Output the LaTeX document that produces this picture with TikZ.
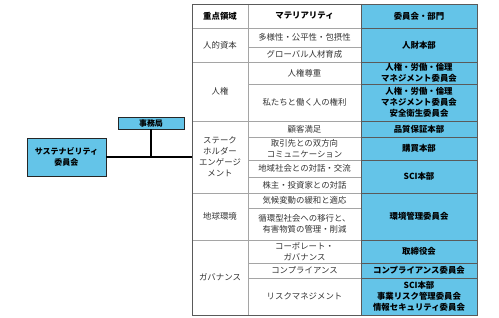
\documentclass[tikz,border=0pt]{standalone}
\usepackage{fontspec}
\setmainfont{Noto Sans CJK JP}
\usepackage{xcolor}
\usepackage{tikz}
\usetikzlibrary{calc}

\definecolor{matblue}{RGB}{100,196,232}
\definecolor{gridgray}{RGB}{165,165,165}
\definecolor{edgegray}{RGB}{90,90,90}

\begin{document}
\begin{tikzpicture}[x=1pt,y=-1pt,
  txt/.style={font=\fontsize{8.4}{11}\selectfont,align=center,text=black!80,inner sep=0pt},
  head/.style={txt,font=\fontsize{8.4}{11}\selectfont\bfseries,text=black},
  bluetxt/.style={txt,font=\fontsize{8.4}{11}\selectfont\bfseries,text=black},
  box/.style={draw=black!85,fill=matblue,line width=0.9pt,
    font=\fontsize{8}{11}\selectfont\bfseries,align=center,inner sep=0pt},
  link/.style={line width=1.1pt}]
  % Table of focus areas, materiality and responsible bodies.

  \useasboundingbox (0,0) rectangle (499,318);

  \fill[matblue] (361,4) rectangle (477,315);

  % white part: group lines and item lines
  \foreach \y in {28,62,121,193,240}
    \draw[gridgray] (192,\y) -- (361,\y);
  \foreach \y in {47,84,137,160,177,208,263,278}
    \draw[gridgray] (248,\y) -- (361,\y);
  \draw[gridgray] (248,4) -- (248,315);

  % blue part
  \foreach \y in {28,62,84,121,137,160,193,240,263,278}
    \draw[edgegray,line width=0.7pt] (361,\y) -- (477,\y);
  \draw[edgegray,line width=0.7pt] (361,4) -- (361,315);

  \draw[edgegray,line width=0.8pt] (192,4) rectangle (477,315);

  % header
  \node[head]    (h1) at (220,16)    {重点領域};
  \node[head]    (h2) at (304.5,16)  {マテリアリティ};
  \node[bluetxt] (h3) at (419,16)    {委員会・部門};

  % focus areas
  \node[txt] (a1) at (220,45)    {人的資本};
  \node[txt] (a2) at (220,91.5)  {人権};
  \node[txt] (a3) at (220,157)   {ステーク\\ホルダー\\エンゲージ\\メント};
  \node[txt] (a4) at (220,216.5) {地球環境};
  \node[txt] (a5) at (220,277.5) {ガバナンス};

  % materiality
  \node[txt] (m1)  at (304.5,37.5)  {多様性・公平性・包摂性};
  \node[txt] (m2)  at (304.5,54.5)  {グローバル人材育成};
  \node[txt] (m3)  at (304.5,73)    {人権尊重};
  \node[txt] (m4)  at (304.5,102.5) {私たちと働く人の権利};
  \node[txt] (m5)  at (304.5,129)   {顧客満足};
  \node[txt] (m6)  at (304.5,148.5) {取引先との双方向\\コミュニケーション};
  \node[txt] (m7)  at (304.5,168.5) {地域社会との対話・交流};
  \node[txt] (m8)  at (304.5,185)   {株主・投資家との対話};
  \node[txt] (m9)  at (304.5,200.5) {気候変動の緩和と適応};
  \node[txt] (m10) at (304.5,224)   {循環型社会への移行と、\\有害物質の管理・削減};
  \node[txt] (m11) at (304.5,251.5) {コーポレート・\\ガバナンス};
  \node[txt] (m12) at (304.5,270.5) {コンプライアンス};
  \node[txt] (m13) at (304.5,296.5) {リスクマネジメント};

  % committees and divisions
  \node[bluetxt] (c1)  at (419,45)    {人財本部};
  \node[bluetxt] (c2)  at (419,73)    {人権・労働・倫理\\マネジメント委員会};
  \node[bluetxt] (c3)  at (419,102.5) {人権・労働・倫理\\マネジメント委員会\\安全衛生委員会};
  \node[bluetxt] (c4)  at (419,129)   {品質保証本部};
  \node[bluetxt] (c5)  at (419,148.5) {購買本部};
  \node[bluetxt] (c6)  at (419,176.5) {SCI本部};
  \node[bluetxt] (c7)  at (419,216.5) {環境管理委員会};
  \node[bluetxt] (c8)  at (419,251.5) {取締役会};
  \node[bluetxt] (c9)  at (419,270.5) {コンプライアンス委員会};
  \node[bluetxt] (c10) at (419,296.5) {SCI本部\\事業リスク管理委員会\\情報セキュリティ委員会};

  % committee and office
  \node[box,minimum width=79,minimum height=38] (iinkai) at (66.5,157) {サステナビリティ\\委員会};
  \node[box,minimum width=66,minimum height=12] (jimu)   at (151,123)  {事務局};

  \coordinate (tbl)  at (192,157);
  \coordinate (junc) at (jimu.south |- tbl);

  \draw[link] (iinkai.east) -- (tbl);
  \draw[link] (jimu.south) -- (junc);
\end{tikzpicture}
\end{document}
